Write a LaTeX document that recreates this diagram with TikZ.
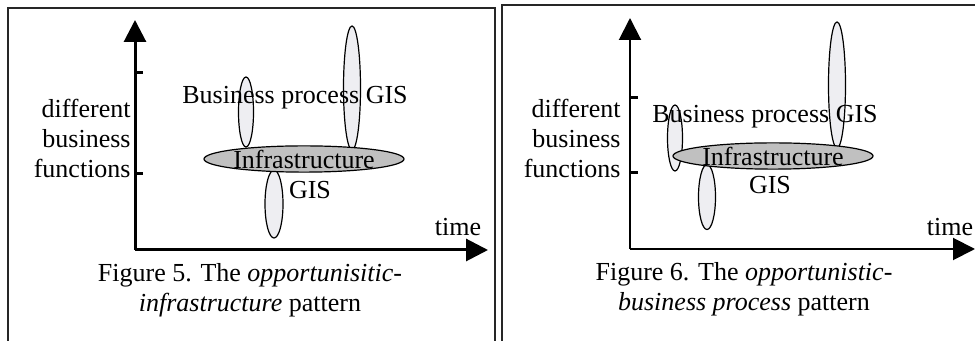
\documentclass[tikz,border=0pt]{standalone}
\usepackage{fontspec}
\setmainfont{Liberation Serif}
\usepackage{tikz}
\usetikzlibrary{shapes.geometric,arrows.meta}
\usepackage{xcolor}
\definecolor{barfill}{HTML}{EEEEF2}
\definecolor{infrafill}{HTML}{C0C0C0}

\begin{document}
\begin{tikzpicture}[
  x=0.5pt, y=-0.5pt,
  txt/.style={font=\fontsize{13}{15}\selectfont, inner sep=0pt},
  bar/.style={ellipse, draw, line width=0.6pt, fill=barfill, inner sep=0pt, minimum width=#1},
  infra/.style={ellipse, draw, line width=0.6pt, fill=infrafill, inner sep=0pt,
    minimum width=100pt, minimum height=8pt, font=\fontsize{13}{15}\selectfont},
  axis/.style={-{Triangle[length=11pt,width=11pt]}, line width=#1},
  frame/.style={draw=black!85, line width=1pt}
]
\useasboundingbox (0,0) rectangle (975,341);

% frames
\draw[frame] (8,345) -- (8,8) -- (495,8) -- (495,345);
\draw[frame] (502,345) -- (502,5) -- (985,5);

% Figure 5
\coordinate (oL) at (135,250);
\coordinate (topL) at (135,20);
\coordinate (endL) at (488,250);
\draw[axis=1.5pt] (oL) -- (topL);
\draw[axis=1.5pt] (oL) -- (endL);
\draw[line width=1.5pt] (135,73) -- (143,73);
\draw[line width=1.5pt] (135,174) -- (143,174);

\node[bar=7.5pt, minimum height=35pt] (busL) at (246,112) {};
\node[bar=8.5pt, minimum height=62pt] (tallL) at (352,88) {};
\node[bar=9pt, minimum height=34pt] (gisL) at (274,204) {};
\node[infra] (infraL) at (304,159) {Infrastructure};

\node[txt] (bpL) at (295,98) {Business process GIS};
\node[txt] (gisTL) at (310,190) {GIS};
\node[txt] (timeL) at (458,227) {time};
\node[txt, align=right, anchor=east] (funcL) at (131,138) {different\\business\\functions};
\node[txt, align=center] (capL) at (250,290)
  {Figure 5. The \textit{opportunisitic-}\\\textit{infrastructure} pattern};

% Figure 6
\coordinate (oR) at (630,249);
\coordinate (topR) at (630,18);
\coordinate (endR) at (975,249);
\draw[axis=1pt] (oR) -- (topR);
\draw[axis=1pt] (oR) -- (endR);
\draw[line width=1.5pt] (630,98) -- (638,98);
\draw[line width=1.5pt] (630,173) -- (638,173);

\node[bar=7.5pt, minimum height=33pt] (busR) at (675,138) {};
\node[bar=8.5pt, minimum height=63pt] (tallR) at (837,85) {};
\node[bar=8.5pt, minimum height=32.5pt] (gisR) at (707,197) {};
\node[infra, minimum width=98.5pt] (infraR) at (773,156) {Infrastructure};

\node[txt] (bpR) at (765,117) {Business process GIS};
\node[txt] (gisTR) at (770,185) {GIS};
\node[txt] (timeR) at (950,227) {time};
\node[txt, align=right, anchor=east] (funcR) at (621,138) {different\\business\\functions};
\node[txt, align=center] (capR) at (744,289)
  {Figure 6. The \textit{opportunistic-}\\\textit{business process} pattern};

\end{tikzpicture}
\end{document}
